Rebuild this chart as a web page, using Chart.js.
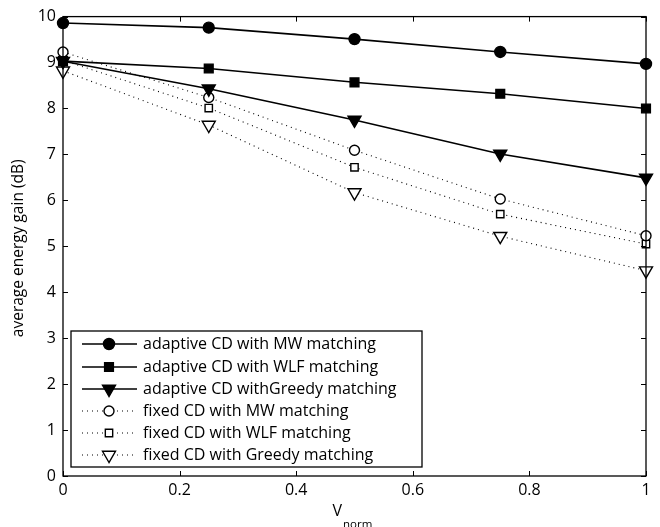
<!DOCTYPE html>
<html>
<head>
<meta charset="utf-8">
<title>average energy gain vs V_norm</title>
<script src="https://cdn.jsdelivr.net/npm/chart.js@4"></script>
<style>
  html, body { margin: 0; padding: 0; background: #fff; }
  #wrap { width: 660px; height: 527px; }
</style>
</head>
<body>
<div id="wrap"><canvas id="chart" width="660" height="527"></canvas></div>
<script>
// ---------- Data ----------
const vNorm = [0, 0.25, 0.5, 0.75, 1];
const xTicks = [0, 0.2, 0.4, 0.6, 0.8, 1];
const yTicks = [0, 1, 2, 3, 4, 5, 6, 7, 8, 9, 10];

const adaptiveMW = [9.86, 9.76, 9.51, 9.23, 8.97];
const adaptiveWLF = [9.03, 8.87, 8.57, 8.32, 8.0];
const adaptiveGreedy = [9.03, 8.43, 7.75, 7.01, 6.49];
const fixedMW = [9.23, 8.24, 7.09, 6.03, 5.23];
const fixedWLF = [9.05, 8.01, 6.72, 5.7, 5.05];
const fixedGreedy = [8.82, 7.64, 6.17, 5.22, 4.47];

const seriesLabels = [
  "adaptive CD with MW matching",
  "adaptive CD with WLF matching",
  "adaptive CD withGreedy matching",
  "fixed CD with MW matching",
  "fixed CD with WLF matching",
  "fixed CD with Greedy matching"
];

const FONT = "'Open Sans', 'DejaVu Sans', sans-serif";

// ---------- Helpers ----------
function pts(ys) {
  return vNorm.map((x, i) => ({ x, y: ys[i] }));
}

function makeSet(label, ys, solid, style, radius, rotation) {
  return {
    label,
    data: pts(ys),
    borderColor: "#000",
    borderWidth: solid ? 1.6 : 1.1,
    borderDash: solid ? [] : [1, 4],
    pointStyle: style,
    pointRadius: radius,
    pointRotation: rotation || 0,
    pointBackgroundColor: solid ? "#000" : "#fff",
    pointBorderColor: "#000",
    pointBorderWidth: 1.4,
    fill: false,
    tension: 0,
    clip: false
  };
}

const datasets = [
  makeSet(seriesLabels[0], adaptiveMW, true, "circle", 5.5),
  makeSet(seriesLabels[1], adaptiveWLF, true, "rect", 6.2),
  makeSet(seriesLabels[2], adaptiveGreedy, true, "triangle", 7.5, 180),
  makeSet(seriesLabels[3], fixedMW, false, "circle", 5),
  makeSet(seriesLabels[4], fixedWLF, false, "rect", 5.2),
  makeSet(seriesLabels[5], fixedGreedy, false, "triangle", 7.5, 180)
];

// ---------- Frame, inward ticks, titles, legend ----------
const framePlugin = {
  id: "frame",
  afterDraw(chart) {
    const { ctx, chartArea: a, scales } = chart;
    const xs = scales.x, ys = scales.y;
    ctx.save();
    ctx.strokeStyle = "#000";

    // inward ticks
    ctx.lineWidth = 1;
    const tl = 5;
    ctx.beginPath();
    xTicks.forEach((v) => {
      const px = Math.round(xs.getPixelForValue(v)) + 0.5;
      ctx.moveTo(px, a.bottom); ctx.lineTo(px, a.bottom - tl);
      ctx.moveTo(px, a.top); ctx.lineTo(px, a.top + tl);
    });
    yTicks.forEach((v) => {
      const py = Math.round(ys.getPixelForValue(v)) + 0.5;
      ctx.moveTo(a.left, py); ctx.lineTo(a.left + tl, py);
      ctx.moveTo(a.right, py); ctx.lineTo(a.right - tl, py);
    });
    ctx.stroke();

    // box
    ctx.lineWidth = 1.3;
    ctx.strokeRect(a.left, a.top, a.right - a.left, a.bottom - a.top);

    // axis titles
    ctx.fillStyle = "#000";
    ctx.font = "16px " + FONT;
    ctx.textBaseline = "alphabetic";
    ctx.textAlign = "left";
    const vx = (a.left + a.right) / 2 - 22;
    ctx.fillText("V", vx, 516);
    const vw = ctx.measureText("V").width;
    ctx.font = "11.5px " + FONT;
    ctx.fillText("norm", vx + vw + 1, 528);

    ctx.save();
    ctx.translate(19, (a.top + a.bottom) / 2 + 2);
    ctx.rotate(-Math.PI / 2);
    ctx.font = "15.5px " + FONT;
    ctx.textAlign = "center";
    ctx.textBaseline = "middle";
    ctx.fillText("average energy gain (dB)", 0, 0);
    ctx.restore();

    // legend
    const lx = 71, ly = 331, lw = 351, lh = 136;
    ctx.fillStyle = "#fff";
    ctx.fillRect(lx, ly, lw, lh);
    ctx.lineWidth = 1.3;
    ctx.strokeRect(lx, ly, lw, lh);

    const rowY = [344, 367, 389, 411, 433, 455];
    chart.data.datasets.forEach((ds, i) => {
      const y = rowY[i];
      ctx.lineWidth = ds.borderWidth;
      ctx.setLineDash(ds.borderDash);
      ctx.beginPath();
      ctx.moveTo(82, y); ctx.lineTo(137, y);
      ctx.stroke();
      ctx.setLineDash([]);
      ctx.fillStyle = ds.pointBackgroundColor;
      ctx.lineWidth = ds.pointBorderWidth;
      Chart.helpers.drawPoint(ctx, {
        pointStyle: ds.pointStyle,
        radius: ds.pointRadius,
        rotation: ds.pointRotation,
        borderWidth: ds.pointBorderWidth
      }, 109, y);
      ctx.fillStyle = "#000";
      ctx.font = "16px " + FONT;
      ctx.textAlign = "left";
      ctx.textBaseline = "middle";
      ctx.fillText(ds.label, 143, y);
    });
    ctx.restore();
  }
};

// ---------- Chart ----------
new Chart(document.getElementById("chart").getContext("2d"), {
  type: "line",
  data: { datasets },
  options: {
    responsive: false,
    animation: false,
    devicePixelRatio: 1,
    layout: { padding: { top: 16, right: 14, left: 0, bottom: 0 } },
    plugins: { legend: { display: false }, tooltip: { enabled: false } },
    scales: {
      x: {
        type: "linear",
        min: 0,
        max: 1,
        afterBuildTicks: (s) => { s.ticks = xTicks.map((v) => ({ value: v })); },
        afterFit: (s) => { s.height = 51; },
        grid: { display: false, drawTicks: false },
        border: { display: false },
        ticks: {
          color: "#000",
          padding: 5,
          maxRotation: 0,
          font: { family: FONT, size: 16 },
          callback: (v) => String(Math.round(v * 10) / 10)
        }
      },
      y: {
        min: 0,
        max: 10,
        afterBuildTicks: (s) => { s.ticks = yTicks.map((v) => ({ value: v })); },
        afterFit: (s) => { s.width = 63; },
        grid: { display: false, drawTicks: false },
        border: { display: false },
        ticks: {
          color: "#000",
          padding: 7,
          font: { family: FONT, size: 16 }
        }
      }
    }
  },
  plugins: [framePlugin]
});
</script>
</body>
</html>
